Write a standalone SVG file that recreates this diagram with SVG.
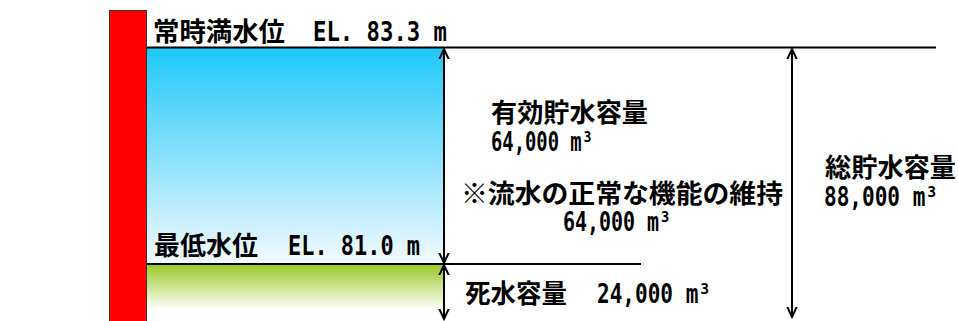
<svg xmlns="http://www.w3.org/2000/svg" width="958" height="321" viewBox="0 0 958 321">
<defs>
<linearGradient id="gBlue" x1="0" y1="0" x2="0" y2="1">
<stop offset="0" stop-color="#1ec8f8"/>
<stop offset="1" stop-color="#f4faff"/>
</linearGradient>
<linearGradient id="gGreen" x1="0" y1="0" x2="0" y2="1">
<stop offset="0" stop-color="#99c822"/>
<stop offset="0.8" stop-color="#ffffff"/>
<stop offset="1" stop-color="#ffffff"/>
</linearGradient>
<marker id="ah" markerUnits="userSpaceOnUse" markerWidth="20" markerHeight="20" viewBox="-10 -10 20 20" refX="0" refY="0" orient="auto-start-reverse">
<path d="M -15,-7 L 0,0 L -15,7" fill="none" stroke="#000" stroke-width="2"/>
</marker>
<style>
.cj{font-family:"Noto Sans CJK JP","Noto Sans CJK SC",sans-serif;font-weight:bold;font-size:26px;fill:#000}
.la{font-family:"DejaVu Sans Mono","Liberation Mono",monospace;font-weight:bold;font-size:27px;fill:#000}
.sup{font-size:20px}
.ln{stroke:#000;stroke-width:2;fill:none}
.ar{stroke:#000;stroke-width:2;fill:none;marker-start:url(#ah);marker-end:url(#ah)}
</style>
</defs>
<rect x="0" y="0" width="958" height="321" fill="#fff"/>
<g id="water">
<rect x="147" y="48" width="296" height="216" fill="url(#gBlue)"/>
<rect x="147" y="264" width="296" height="57" fill="url(#gGreen)"/>
</g>
<g id="dam">
<rect x="109.5" y="10.5" width="37" height="320" fill="#ff0000" stroke="#333" stroke-width="1"/>
</g>
<g id="connectors">
<line class="ln" x1="147" y1="47.5" x2="936" y2="47.5"/>
<line class="ln" x1="147" y1="264" x2="641" y2="264"/>
<line class="ar" x1="444" y1="49" x2="444" y2="263"/>
<line class="ar" x1="444" y1="265" x2="444" y2="319"/>
<line class="ar" x1="792" y1="49" x2="792" y2="317"/>
</g>
<g id="hwl">
<text class="cj" x="153" y="41" textLength="132" lengthAdjust="spacingAndGlyphs">常時満水位</text>
<text class="la" x="313" y="41" textLength="134" lengthAdjust="spacingAndGlyphs">EL. 83.3 m</text>
</g>
<g id="lwl">
<text class="cj" x="154" y="255" textLength="104" lengthAdjust="spacingAndGlyphs">最低水位</text>
<text class="la" x="288" y="255" textLength="132" lengthAdjust="spacingAndGlyphs">EL. 81.0 m</text>
</g>
<g id="effective">
<text class="cj" x="491" y="122" textLength="157" lengthAdjust="spacingAndGlyphs">有効貯水容量</text>
<text class="la" x="491" y="151" textLength="102" lengthAdjust="spacingAndGlyphs">64,000 m³</text>
</g>
<g id="normal-flow">
<text class="cj" x="461" y="203" textLength="322" lengthAdjust="spacingAndGlyphs">※流水の正常な機能の維持</text>
<text class="la" x="563" y="231" textLength="108" lengthAdjust="spacingAndGlyphs">64,000 m³</text>
</g>
<g id="total">
<text class="cj" x="825" y="177" textLength="131" lengthAdjust="spacingAndGlyphs">総貯水容量</text>
<text class="la" x="824" y="206" textLength="114" lengthAdjust="spacingAndGlyphs">88,000 m³</text>
</g>
<g id="dead">
<text class="cj" x="465" y="303" textLength="102" lengthAdjust="spacingAndGlyphs">死水容量</text>
<text class="la" x="597" y="303" textLength="114" lengthAdjust="spacingAndGlyphs">24,000 m³</text>
</g>
</svg>
